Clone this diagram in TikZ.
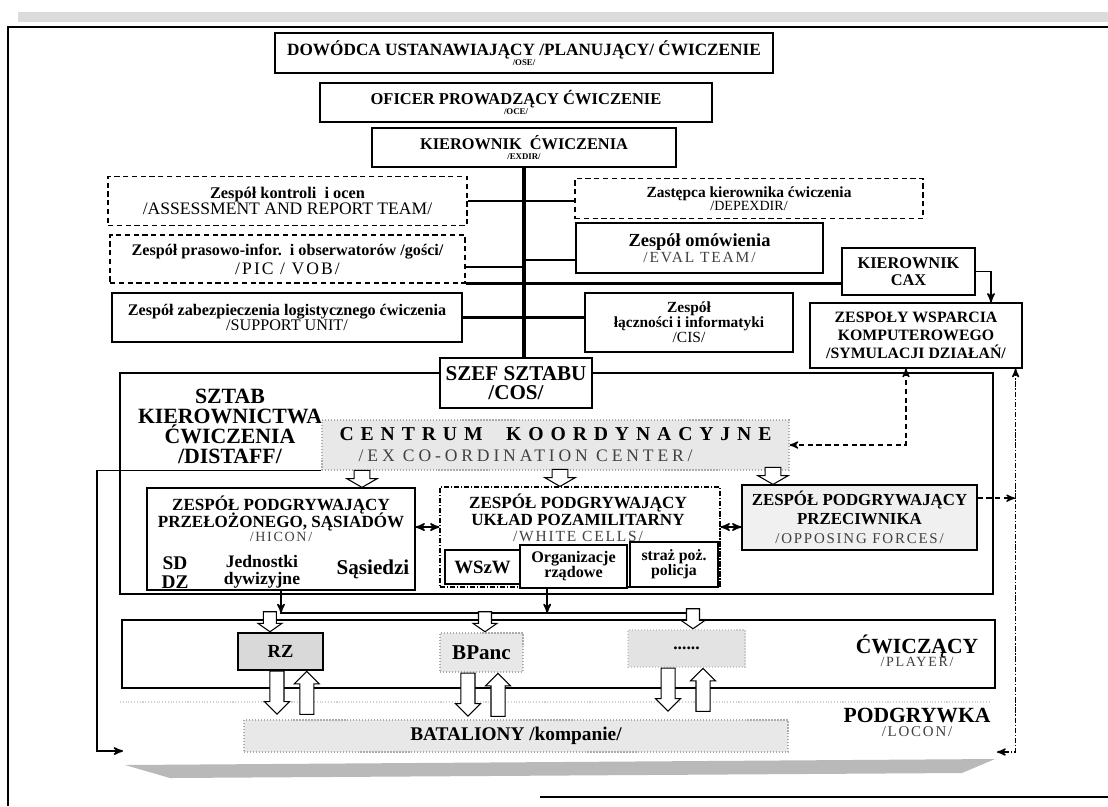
\documentclass[tikz,border=0pt]{standalone}
\usepackage{fontspec}
\setmainfont{Liberation Serif}
\newfontfamily\spacedfont[LetterSpace=35]{Liberation Serif}
\newfontfamily\widefont[LetterSpace=12]{Liberation Serif}
\newfontfamily\widerfont[LetterSpace=22]{Liberation Serif}
\newcommand{\fsz}[2]{\fontsize{#1}{#2}\selectfont}
\usetikzlibrary{arrows,calc,positioning,shapes.arrows}

\begin{document}
\lineskiplimit=-50pt
\begin{tikzpicture}[x=0.02cm,y=-0.02cm,>=stealth',semithick,
                    sz/.style 2 args={minimum width=#1*0.02cm,minimum height=#2*0.02cm}]
 \tikzstyle{box}=[draw,fill=white,inner sep=0pt,align=center,line width=0.7pt]
 \tikzstyle{dbox}=[box,densely dashed]
 \tikzstyle{cbox}=[box,densely dash dot]
 \tikzstyle{gbox}=[box,fill=gray!18,draw=gray!65,densely dotted]
 \tikzstyle{lbl}=[align=center,inner sep=0pt]
 \tikzstyle{link}=[line width=1.3pt]
 \tikzstyle{spine}=[line width=2.3pt]
 \tikzstyle{thin}=[line width=0.9pt]
 \tikzstyle{dlink}=[line width=0.8pt,densely dashed]
 \tikzstyle{hol}=[draw,fill=white,single arrow,inner xsep=0pt,line width=0.6pt,minimum width=0pt]
 \tikzstyle{holc}=[hol,rotate=-90,inner ysep=4.2pt,single arrow head extend=4.2pt,single arrow tip angle=120,minimum height=0.34cm]
 \tikzstyle{holb}=[hol,rotate=-90,inner ysep=3.4pt,single arrow head extend=3.1pt,single arrow tip angle=110,minimum height=0.4cm]
 \tikzstyle{hold}=[hol,rotate=-90,inner ysep=3.7pt,single arrow head extend=3.1pt,minimum height=0.86cm]
 \tikzstyle{holu}=[hol,rotate=90,inner ysep=3.7pt,single arrow head extend=3.1pt,minimum height=0.86cm]

 \useasboundingbox (0,0) rectangle (1108,806);
 \fill[gray!28] (18,12) rectangle (1108,22);
 \draw[line width=1.3pt] (8,806) -- (8,27) -- (1108,27);
 \draw[line width=1.3pt] (540,797) -- (1108,797);

 \node[box,sz={498}{40},font=\bfseries\fsz{9.8}{5.8}] (ose) at (524,53)
   {DOWÓDCA USTANAWIAJĄCY /PLANUJĄCY/ ĆWICZENIE\\\fsz{5}{6}/OSE/};
 \node[box,sz={392}{39},font=\bfseries\fsz{9.4}{5.8}] (oce) at (516,102.5)
   {OFICER PROWADZĄCY ĆWICZENIE\\\fsz{5}{6}/OCE/};
 \node[box,sz={304}{39},font=\bfseries\fsz{9.3}{5.8}] (exdir) at (524,147.5)
   {KIEROWNIK\ \ ĆWICZENIA\\\fsz{5}{6}/EXDIR/};

 \node[dbox,sz={359}{49},font=\bfseries\fsz{9.3}{8.7}] (art) at (287.5,201)
   {Zespół kontroli\ \ i ocen\\\mdseries\fsz{10}{9}/ASSESSMENT AND REPORT TEAM/};
 \node[dbox,sz={348}{40},font=\bfseries\fsz{8.8}{7.6}] (depexdir) at (749,198.5)
   {Zastępca kierownika ćwiczenia\\\mdseries\fsz{8}{8}/DEPEXDIR/};
 \node[dbox,sz={355}{48},font=\bfseries\fsz{9.2}{10.8}] (pic) at (287.5,259)
   {Zespół prasowo-infor.\ \ i obserwatorów /gości/\\\mdseries\widefont\fsz{10}{9}/PIC / VOB/};
 \node[box,sz={247}{50},font=\bfseries\fsz{10.5}{9}] (eval) at (699.5,248)
   {Zespół omówienia\\\mdseries\widefont\fsz{8.8}{9}\color{black!75}/EVAL TEAM/};
 \node[box,sz={133}{47},font=\bfseries\fsz{9.3}{9.7}] (cax) at (908.5,271.5)
   {KIEROWNIK\\CAX};
 \node[box,sz={350}{49},font=\bfseries\fsz{9.2}{8.5}] (support) at (287,317.5)
   {Zespół zabezpieczenia logistycznego ćwiczenia\\\mdseries\fsz{9.2}{9}/SUPPORT UNIT/};
 \node[box,sz={208}{59},font=\bfseries\fsz{8.8}{8.5}] (cis) at (689,322.5)
   {Zespół\\łączności i informatyki\\\mdseries /CIS/};
 \node[box,sz={212}{65},font=\bfseries\fsz{9}{10.2}] (wsp) at (916,335.5)
   {ZESPOŁY WSPARCIA\\KOMPUTEROWEGO\\/SYMULACJI DZIAŁAŃ/};

 \node[box,sz={873}{221}] (distaff) at (556.5,483.5) {};
 \node[box,sz={152}{50},font=\bfseries\fsz{12}{10.5}] (cos) at (516,383)
   {SZEF SZTABU\\/COS/};
 \node[lbl,font=\bfseries\fsz{12.4}{11.4}] (distafflbl) at (230,426)
   {SZTAB\\KIEROWNICTWA\\ĆWICZENIA\\/DISTAFF/};
 \node[gbox,sz={467}{50},font=\bfseries\fsz{11.2}{12}] (centrum) at (555.5,445)
   {\spacedfont\bfseries CENTRUM\ \ KOORDYNACYJNE\\\mdseries\widerfont\fsz{10}{12}\color{black!75}/EX CO-ORDINATION CENTER/\hspace*{34pt}};

 \node[box,sz={268}{102}] (hicon) at (281,539) {};
 \node[lbl,font=\bfseries\fsz{9.7}{9.7}] (hicont) at (281,519)
   {ZESPÓŁ PODGRYWAJĄCY\\PRZEŁOŻONEGO, SĄSIADÓW\\[-1.7pt]\mdseries\widefont\fsz{8}{9}\color{black!75}/HICON/};
 \node[lbl,font=\bfseries\fsz{11}{10.8}] (sd) at (175,573) {SD\\DZ};
 \node[lbl,font=\bfseries\fsz{10}{9.6}] (jedn) at (262,572) {Jednostki\\dywizyjne};
 \node[lbl,font=\bfseries\fsz{12}{12}] (sas) at (373,569) {Sąsiedzi};

 \node[cbox,sz={280}{100}] (white) at (580,537) {};
 \node[lbl,font=\bfseries\fsz{9.7}{9.5}] (whitet) at (578,518)
   {ZESPÓŁ PODGRYWAJĄCY\\UKŁAD POZAMILITARNY\\\mdseries\widefont\fsz{8.8}{9}\color{black!75}/WHITE CELLS/};
 \node[box,sz={75}{34},font=\bfseries\fsz{10.7}{12}] (wszw) at (482.5,567) {WSzW};
 \node[box,sz={107}{43},font=\bfseries\fsz{9.2}{8.5}] (org) at (573.5,566.5) {Organizacje\\rządowe};
 \node[box,sz={88}{45},font=\bfseries\fsz{9}{8.5}] (straz) at (674,564.5) {straż poż.\\policja};

 \node[box,fill=gray!12,sz={235}{65},font=\bfseries\fsz{9.6}{10.8}] (opfor) at (859.5,517.5)
   {ZESPÓŁ PODGRYWAJĄCY\\PRZECIWNIKA\\\mdseries\widefont\fsz{8.5}{9}\color{black!75}/OPPOSING FORCES/};

 \node[box,sz={873}{68}] (player) at (558.5,654) {};
 \node[box,fill=gray!30,sz={85}{37},font=\bfseries\fsz{10.5}{12}] (rz) at (280.5,651.5) {RZ};
 \node[gbox,sz={83}{39},font=\bfseries\fsz{12}{12}] (bpanc) at (481.5,652.5) {BPanc};
 \node[gbox,fill=gray!22,draw=gray!40,sz={117}{37},font=\bfseries\fsz{10}{12}] (etc) at (686.5,648.5) {......};
 \node[lbl,font=\bfseries\fsz{12.3}{7.6}] (playerlbl) at (917,651)
   {ĆWICZĄCY\\\mdseries\widefont\fsz{8}{8}\color{black!75}/PLAYER/};

 \draw[gray!35,densely dotted] (120,702) -- (990,702);
 \node[gbox,sz={544}{32},font=\bfseries\fsz{11}{12}] (bat) at (516,736) {BATALIONY /kompanie/};
 \node[lbl,font=\bfseries\fsz{12.3}{8}] (loconlbl) at (917,722)
   {PODGRYWKA\\\mdseries\widefont\fsz{8.5}{8}\color{black!75}/LOCON/};
 \fill[gray!55] (125,765) -- (995,759) -- (962,773) -- (170,778) -- cycle;

 \draw[spine] (exdir.south) -- (exdir.south |- cos.north);
 \draw[link] (art.east) -- (art.east -| depexdir.west);
 \draw[link] ([yshift=-4.5pt]pic.east) -- ([yshift=-4.5pt]pic.east -| exdir.south);
 \draw[link] ([yshift=-6.8pt]eval.west) -- ([yshift=-6.8pt]eval.west -| exdir.south);
 \draw[link] (pic.south east) -- (pic.south east -| cax.west);
 \draw[link] (support.east) -- (support.east -| cis.west);
 \draw[thin,->] (cax.east) -| ([xshift=-18pt]wsp.north east);

 \coordinate (rdn) at (1015,752);
 \coordinate (lcn) at (997,752);
 \coordinate (lft) at (97,751);
 \coordinate (lin) at (123,751);
 \draw[dlink,<->] ([xshift=-5.7pt]wsp.south) |- (centrum.east);
 \draw[line width=0.8pt,densely dash dot,<->] ([xshift=-4pt]wsp.south east) |- (lcn);
 \draw[dlink,->] ([yshift=11pt]opfor.east) -- ([yshift=11pt]opfor.east -| rdn);
 \draw[thin,->] (centrum.south west) -| (lft) -- (lin);

 \draw[thin,<->] ([yshift=6.8pt]hicon.east) -- ([yshift=6.8pt]hicon.east -| white.west);
 \draw[thin,<->] ([yshift=5.7pt]white.east) -- ([yshift=5.7pt]white.east -| opfor.west);

 \coordinate (bus1) at (280,613);
 \coordinate (bus2) at (700,613);
 \draw[thin] (bus1) -- (bus2);
 \draw[thin,->] (hicon.south) -- (hicon.south |- bus1);
 \draw[thin,->] ([xshift=-15pt]org.south) -- ([xshift=-15pt]org.south |- bus1);

 \node[holc,anchor=tip] (c1) at (362,488) {};
 \node[holc,anchor=tip] (c2) at (560,487) {};
 \node[holc,anchor=tip] (c3) at (773,485) {};
 \node[holb,anchor=tip] (b1) at ([xshift=-6pt]rz.north) {};
 \node[holb,anchor=tip] (b2) at ([xshift=2pt]bpanc.north) {};
 \node[holb,anchor=tip] (b3) at ([xshift=3.7pt]etc.north) {};
 \node[hold,anchor=tail] (d1) at ([xshift=-2pt]rz.south) {};
 \node[holu,anchor=tip] (u1) at ([xshift=15pt]rz.south) {};
 \node[hold,anchor=tail] (d2) at ([xshift=-7.7pt]bpanc.south) {};
 \node[holu,anchor=tip] (u2) at ([xshift=9.4pt]bpanc.south) {};
 \node[hold,anchor=tail] (d3) at ([xshift=-10.5pt]etc.south) {};
 \node[holu,anchor=tip] (u3) at ([xshift=9.4pt]etc.south) {};
\end{tikzpicture}
\end{document}
